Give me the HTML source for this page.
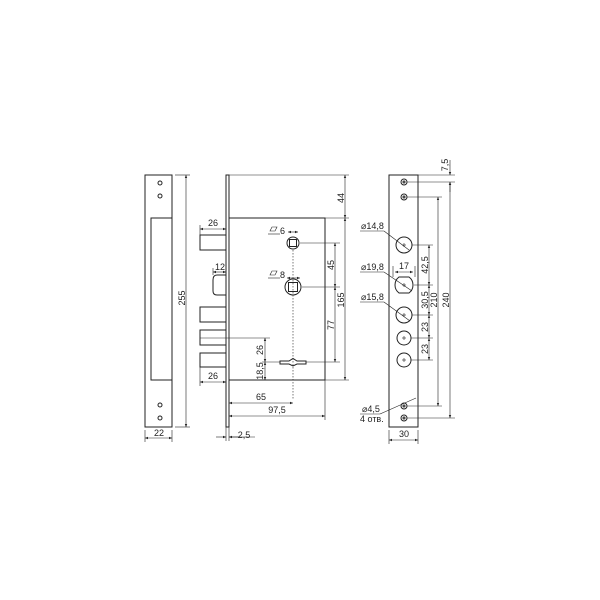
<!DOCTYPE html>
<html><head><style>html,body{margin:0;padding:0;background:#fff}svg{display:block}text{font-family:"Liberation Sans",sans-serif;font-size:9px;fill:#222}</style></head>
<body>
<svg width="600" height="600" viewBox="0 0 600 600" xmlns="http://www.w3.org/2000/svg">
<defs>
<marker id="a" viewBox="0 0 10 10" refX="10" refY="5" markerWidth="5" markerHeight="5" orient="auto-start-reverse"><path d="M0,1 L10,5 L0,9z" fill="#222"/></marker>
</defs>
<g stroke="#222" fill="none" stroke-width="1">
<rect x="145" y="175" width="27" height="252"/>
<rect x="151" y="218" width="21" height="162"/>
<circle cx="160" cy="183" r="2"/><circle cx="160" cy="196" r="2"/><circle cx="160" cy="405" r="2"/><circle cx="160" cy="418" r="2"/>
<g stroke-width="0.6">
<line x1="175" y1="175" x2="190" y2="175"/><line x1="175" y1="427" x2="190" y2="427"/>
<line x1="186" y1="175" x2="186" y2="427" marker-start="url(#a)" marker-end="url(#a)"/>
<line x1="145" y1="430" x2="145" y2="442"/><line x1="172" y1="430" x2="172" y2="442"/>
<line x1="145" y1="438" x2="172" y2="438" marker-start="url(#a)" marker-end="url(#a)"/>
</g>
<rect x="226" y="175" width="3" height="252"/>
<rect x="229" y="218" width="96" height="162"/>
<rect x="200" y="235" width="26" height="15"/>
<path d="M226,275 H217 Q213,275 213,280 V291 Q213,295 217,295 H226"/>
<rect x="200" y="307" width="26" height="15"/>
<rect x="200" y="330" width="26" height="15"/>
<rect x="200" y="353" width="26" height="14"/>
<circle cx="293" cy="243" r="6"/><rect x="289.5" y="239.5" width="7" height="7"/>
<circle cx="293" cy="287" r="8"/><rect x="288.5" y="282.5" width="9" height="9"/>
<path d="M280,361 H289 L293,358.5 L297,361 H306 V364 H297 L293,366 L289,364 H280z"/>
<g stroke-width="0.6">
<line x1="293" y1="250" x2="293" y2="400" stroke-dasharray="1.5,1.5"/>
<line x1="229" y1="175" x2="349" y2="175"/><line x1="325" y1="218" x2="349" y2="218"/><line x1="325" y1="380" x2="349" y2="380"/>
<line x1="345" y1="175" x2="345" y2="218" marker-start="url(#a)" marker-end="url(#a)"/>
<line x1="345" y1="218" x2="345" y2="380" marker-start="url(#a)" marker-end="url(#a)"/>
<line x1="300" y1="243" x2="340" y2="243"/><line x1="302" y1="287" x2="340" y2="287"/><line x1="306" y1="362" x2="340" y2="362"/>
<line x1="335" y1="243" x2="335" y2="287" marker-start="url(#a)" marker-end="url(#a)"/>
<line x1="335" y1="287" x2="335" y2="362" marker-start="url(#a)" marker-end="url(#a)"/>
<line x1="200" y1="225" x2="200" y2="235"/>
<line x1="200" y1="229" x2="226" y2="229" marker-start="url(#a)" marker-end="url(#a)"/>
<line x1="213" y1="268" x2="213" y2="275"/>
<line x1="213" y1="272" x2="226" y2="272" marker-start="url(#a)" marker-end="url(#a)"/>
<line x1="200" y1="367" x2="200" y2="386"/>
<line x1="200" y1="382" x2="226" y2="382" marker-start="url(#a)" marker-end="url(#a)"/>
<line x1="200" y1="338" x2="270" y2="338"/>
<line x1="262" y1="362" x2="280" y2="362"/>
<line x1="265" y1="338" x2="265" y2="362" marker-start="url(#a)" marker-end="url(#a)"/>
<line x1="265" y1="362" x2="265" y2="380" marker-start="url(#a)" marker-end="url(#a)"/>
<line x1="229" y1="427" x2="229" y2="420"/><line x1="325" y1="380" x2="325" y2="420"/>
<line x1="229" y1="403" x2="293" y2="403" marker-start="url(#a)" marker-end="url(#a)"/>
<line x1="229" y1="416" x2="325" y2="416" marker-start="url(#a)" marker-end="url(#a)"/>
<line x1="226" y1="427" x2="226" y2="441"/><line x1="229" y1="427" x2="229" y2="441"/>
<line x1="216" y1="437" x2="226" y2="437" marker-end="url(#a)"/>
<line x1="239" y1="437" x2="229" y2="437" marker-end="url(#a)"/>
<line x1="229" y1="437" x2="255" y2="437"/>
<line x1="268" y1="234" x2="280" y2="234"/><line x1="288" y1="232" x2="298" y2="232" marker-start="url(#a)" marker-end="url(#a)"/>
<line x1="268" y1="278" x2="280" y2="278"/><line x1="287" y1="278" x2="300" y2="278" marker-start="url(#a)" marker-end="url(#a)"/>
<path d="M272,227 h5 l-2,4 h-5z M272,271 h5 l-2,4 h-5z"/>
</g>
<rect x="389" y="175" width="29" height="252"/>
<circle cx="404" cy="182" r="3"/><circle cx="404" cy="182" r="1"/>
<circle cx="404" cy="197" r="3"/><circle cx="404" cy="197" r="1"/>
<circle cx="404" cy="406" r="3"/><circle cx="404" cy="406" r="1"/>
<circle cx="404" cy="418" r="3"/><circle cx="404" cy="418" r="1"/>
<circle cx="404" cy="245" r="8"/>
<path d="M399,277 H409 A10,10 0 0 1 409,293 H399 A10,10 0 0 1 399,277z"/>
<circle cx="404" cy="315" r="8"/>
<circle cx="404" cy="338" r="7"/>
<circle cx="404" cy="360" r="7"/>
<g stroke-width="0.6">
<line x1="402" y1="245" x2="406" y2="245"/><line x1="404" y1="243" x2="404" y2="247"/>
<line x1="402" y1="285" x2="406" y2="285"/><line x1="404" y1="283" x2="404" y2="287"/>
<line x1="402" y1="315" x2="406" y2="315"/><line x1="404" y1="313" x2="404" y2="317"/>
<line x1="402" y1="338" x2="406" y2="338"/><line x1="404" y1="336" x2="404" y2="340"/>
<line x1="402" y1="360" x2="406" y2="360"/><line x1="404" y1="358" x2="404" y2="362"/>
<line x1="418" y1="175" x2="455" y2="175"/><line x1="407" y1="182" x2="455" y2="182"/>
<line x1="407" y1="197" x2="442" y2="197"/><line x1="407" y1="406" x2="442" y2="406"/><line x1="407" y1="418" x2="455" y2="418"/>
<line x1="412" y1="245" x2="433" y2="245"/><line x1="414" y1="285" x2="433" y2="285"/><line x1="412" y1="315" x2="433" y2="315"/><line x1="411" y1="338" x2="433" y2="338"/><line x1="411" y1="360" x2="433" y2="360"/>
<line x1="429" y1="245" x2="429" y2="285" marker-start="url(#a)" marker-end="url(#a)"/>
<line x1="429" y1="285" x2="429" y2="315" marker-start="url(#a)" marker-end="url(#a)"/>
<line x1="429" y1="315" x2="429" y2="338" marker-start="url(#a)" marker-end="url(#a)"/>
<line x1="429" y1="338" x2="429" y2="360" marker-start="url(#a)" marker-end="url(#a)"/>
<line x1="438" y1="197" x2="438" y2="406" marker-start="url(#a)" marker-end="url(#a)"/>
<line x1="450" y1="182" x2="450" y2="418" marker-start="url(#a)" marker-end="url(#a)"/>
<line x1="450" y1="160" x2="450" y2="175" marker-end="url(#a)"/>
<line x1="450" y1="192" x2="450" y2="182" marker-end="url(#a)"/>
<line x1="389" y1="430" x2="389" y2="444"/><line x1="418" y1="430" x2="418" y2="444"/>
<line x1="389" y1="440" x2="418" y2="440" marker-start="url(#a)" marker-end="url(#a)"/>
<line x1="360" y1="231" x2="384" y2="231"/><line x1="384" y1="231" x2="409" y2="250"/>
<line x1="360" y1="272" x2="384" y2="272"/><line x1="384" y1="272" x2="412" y2="291"/>
<line x1="360" y1="302" x2="384" y2="302"/><line x1="384" y1="302" x2="410" y2="321"/>
<line x1="393" y1="266" x2="393" y2="277"/><line x1="415" y1="266" x2="415" y2="277"/>
<line x1="395" y1="272" x2="413" y2="272" marker-start="url(#a)" marker-end="url(#a)"/>
<line x1="360" y1="414" x2="380" y2="414"/><line x1="380" y1="414" x2="416" y2="398"/>
</g>
</g>
<text x="185" y="298" transform="rotate(-90 185 298)" text-anchor="middle">255</text>
<text x="159" y="436" text-anchor="middle">22</text>
<text x="213" y="226" text-anchor="middle">26</text>
<text x="220" y="270" text-anchor="middle">12</text>
<text x="213" y="379" text-anchor="middle">26</text>
<text x="280" y="234">6</text>
<text x="280" y="278">8</text>
<text x="344" y="198" transform="rotate(-90 344 198)" text-anchor="middle">44</text>
<text x="344" y="300" transform="rotate(-90 344 300)" text-anchor="middle">165</text>
<text x="334" y="265" transform="rotate(-90 334 265)" text-anchor="middle">45</text>
<text x="334" y="325" transform="rotate(-90 334 325)" text-anchor="middle">77</text>
<text x="263" y="350" transform="rotate(-90 263 350)" text-anchor="middle">26</text>
<text x="263" y="371" transform="rotate(-90 263 371)" text-anchor="middle">18,5</text>
<text x="261" y="400" text-anchor="middle">65</text>
<text x="277" y="413" text-anchor="middle">97,5</text>
<text x="244" y="438" text-anchor="middle">2,5</text>
<text x="448" y="165" transform="rotate(-90 448 165)" text-anchor="middle">7,5</text>
<text x="361" y="229">⌀14,8</text>
<text x="361" y="270">⌀19,8</text>
<text x="404" y="269" text-anchor="middle">17</text>
<text x="361" y="300">⌀15,8</text>
<text x="428" y="265" transform="rotate(-90 428 265)" text-anchor="middle">42,5</text>
<text x="428" y="300" transform="rotate(-90 428 300)" text-anchor="middle">30,5</text>
<text x="428" y="327" transform="rotate(-90 428 327)" text-anchor="middle">23</text>
<text x="428" y="349" transform="rotate(-90 428 349)" text-anchor="middle">23</text>
<text x="437" y="300" transform="rotate(-90 437 300)" text-anchor="middle">210</text>
<text x="449" y="300" transform="rotate(-90 449 300)" text-anchor="middle">240</text>
<text x="362" y="412">⌀4,5</text>
<text x="360" y="422">4 отв.</text>
<text x="404" y="437" text-anchor="middle">30</text>
</svg>
</body></html>
